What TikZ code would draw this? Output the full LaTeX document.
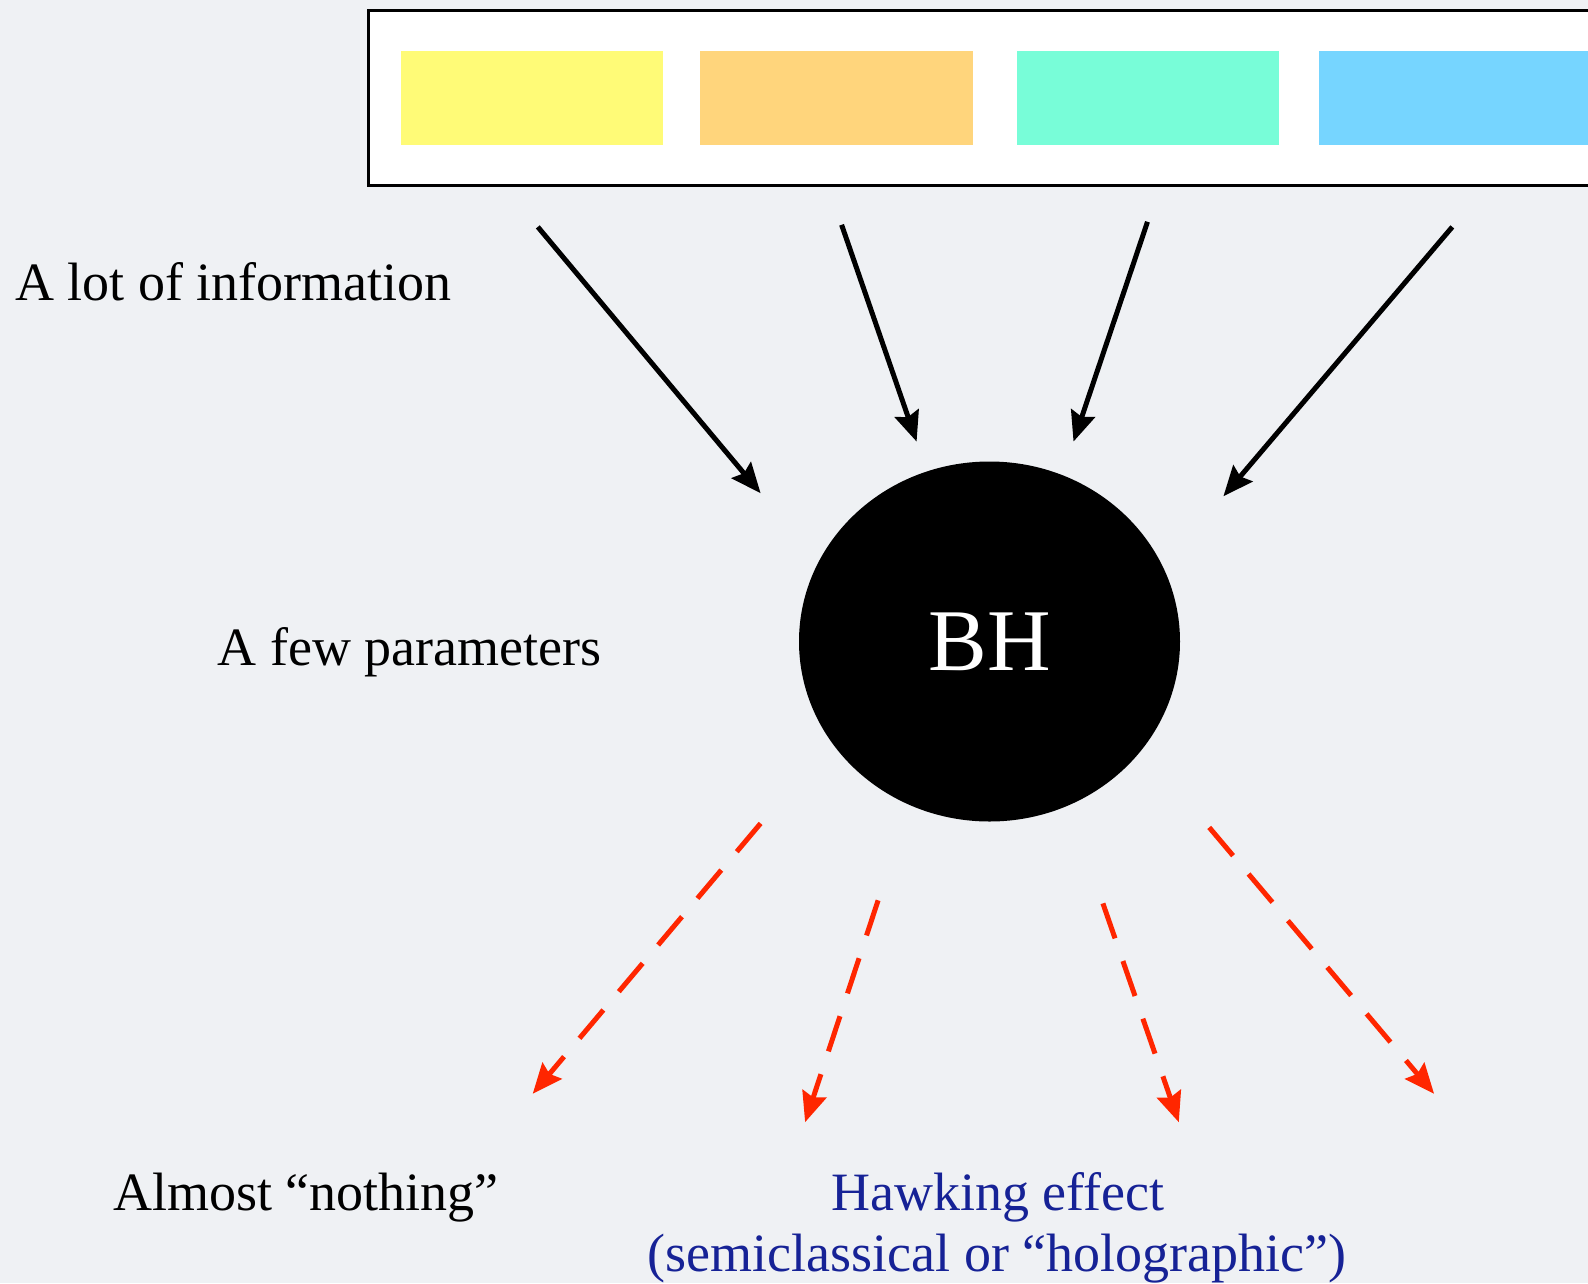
\documentclass[tikz,border=0pt]{standalone}
\usepackage{fontspec}
\setmainfont{Liberation Serif}
\usetikzlibrary{arrows.meta,shapes.geometric}

\definecolor{bgcol}{RGB}{239,241,244}
\definecolor{cyellow}{RGB}{255,251,119}
\definecolor{corange}{RGB}{255,213,124}
\definecolor{cteal}{RGB}{120,253,216}
\definecolor{cblue}{RGB}{118,213,255}
\definecolor{outred}{RGB}{255,38,0}
\definecolor{navy}{RGB}{22,34,150}

\tikzset{
  swatch/.style={draw=none, inner sep=0pt, anchor=north west},
  inflow/.style={line width=5pt, -{Stealth[length=30pt,width=25pt,inset=4pt]}},
  outflow/.style={line width=5pt, outred, dash pattern=on 37pt off 24pt,
                  -{Stealth[length=30pt,width=25pt,inset=4pt]}},
  label/.style={inner sep=0pt, font=\fontsize{54}{61}\selectfont},
}

\begin{document}
\begin{tikzpicture}[x=1pt, y=-1pt]
  \useasboundingbox (0,0) rectangle (1588,1283);
  \fill[bgcol] (0,0) rectangle (1588,1283);
  \clip (0,0) rectangle (1588,1283);

  % strip of incoming information
  \node[draw=black, line width=3pt, fill=white, inner sep=0pt, anchor=north west,
        minimum width=1260pt, minimum height=175pt] (strip) at (366.5,9) {};
  \node[swatch, fill=cyellow, minimum width=262pt, minimum height=94pt] (c1) at (401,51) {};
  \node[swatch, fill=corange, minimum width=273pt, minimum height=94pt] (c2) at (700,51) {};
  \node[swatch, fill=cteal,   minimum width=262pt, minimum height=94pt] (c3) at (1017,51) {};
  \node[swatch, fill=cblue,   minimum width=270pt, minimum height=94pt] (c4) at (1319,51) {};

  % the black hole
  \node[ellipse, fill=black, inner sep=0pt, minimum width=381pt, minimum height=360pt,
        text=white, font=\fontsize{88}{90}\selectfont] (bh) at (989.5,641.5) {BH};

  % arrow end points
  \coordinate (i1s) at (537.8,226.9);  \coordinate (i1e) at (760.6,493.2);
  \coordinate (i2s) at (841.6,224.8);  \coordinate (i2e) at (916.6,441.6);
  \coordinate (i3s) at (1147.5,221.8); \coordinate (i3e) at (1073.5,441.6);
  \coordinate (i4s) at (1452.3,226.9); \coordinate (i4e) at (1223.4,496.3);

  \coordinate (o1s) at (760.6,823.4);  \coordinate (o1e) at (532.7,1093.8);
  \coordinate (o2s) at (878.1,900.3);  \coordinate (o2e) at (805.1,1122.2);
  \coordinate (o3s) at (1102.9,903.4); \coordinate (o3e) at (1178.8,1122.2);
  \coordinate (o4s) at (1209.2,827.4); \coordinate (o4e) at (1434.1,1093.8);

  % information falling in
  \draw[inflow] (i1s) -- (i1e);
  \draw[inflow] (i2s) -- (i2e);
  \draw[inflow] (i3s) -- (i3e);
  \draw[inflow] (i4s) -- (i4e);

  % radiation coming out
  \draw[outflow] (o1s) -- (o1e);
  \draw[outflow] (o2s) -- (o2e);
  \draw[outflow] (o3s) -- (o3e);
  \draw[outflow] (o4s) -- (o4e);

  % labels
  \node[label, anchor=base west] (lot) at (15,300) {A lot of information};
  \node[label, anchor=base west] (few) at (217.5,665) {A few parameters};
  \node[label, anchor=base west] (nothing) at (113,1210) {Almost “nothing”};
  \node[label, anchor=base, text=navy] (hawk) at (998,1210) {Hawking effect};
  \node[label, anchor=base, text=navy] (semi) at (997,1271) {(semiclassical or “holographic”)};
\end{tikzpicture}
\end{document}
